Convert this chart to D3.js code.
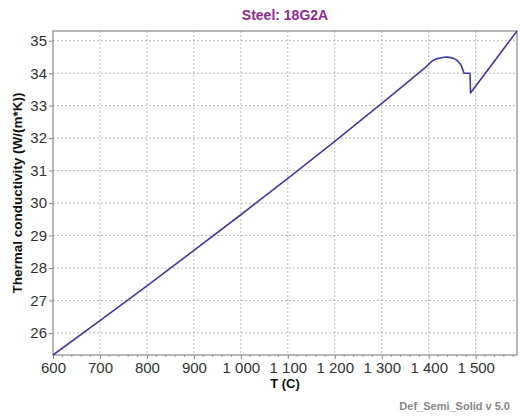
<!DOCTYPE html>
<html><head><meta charset="utf-8">
<script src="https://cdn.jsdelivr.net/npm/d3@7"></script>
<style>body{margin:0;background:#fff;} svg{display:block;}</style>
</head><body>
<svg id="c" width="520" height="416"></svg>
<script>
const temps = [600, 700, 800, 900, 1000, 1100, 1200, 1300, 1350, 1395, 1400, 1405, 1411, 1418, 1425, 1432, 1439, 1447, 1454, 1460, 1464, 1468, 1471, 1473, 1475, 1488, 1489, 1588];
const conductivity = [25.32, 26.38, 27.45, 28.54, 29.64, 30.76, 31.9, 33.07, 33.66, 34.20, 34.28, 34.35, 34.41, 34.45, 34.47, 34.49, 34.495, 34.48, 34.45, 34.40, 34.34, 34.27, 34.17, 34.09, 34.0, 34.0, 33.39, 35.30];
const xTicks = [600, 700, 800, 900, 1000, 1100, 1200, 1300, 1400, 1500];
const yTicks = [26, 27, 28, 29, 30, 31, 32, 33, 34, 35];
const title = "Steel: 18G2A";
const xLabel = "T (C)";
const yLabel = "Thermal conductivity (W/(m*K))";
const credit = "Def_Semi_Solid v 5.0";

const svg = d3.select("#c");
const m = {l: 53, r: 517, t: 31, b: 355};
const x = d3.scaleLinear().domain([600, 1588]).range([m.l, m.r]);
const y = d3.scaleLinear().domain([25.32, 35.3]).range([m.b, m.t]);
const font = "'Liberation Sans', Arial, sans-serif";
const fmt = v => d3.format(",")(v).replace(/,/g, " ");

// grid
svg.append("g").selectAll("line").data(xTicks.slice(1)).join("line")
  .attr("x1", d => x(d)).attr("x2", d => x(d)).attr("y1", m.t).attr("y2", m.b)
  .attr("stroke", "#bbb").attr("stroke-dasharray", "2,2").attr("stroke-width", 1);
svg.append("g").selectAll("line").data(yTicks).join("line")
  .attr("y1", d => y(d)).attr("y2", d => y(d)).attr("x1", m.l).attr("x2", m.r)
  .attr("stroke", "#bbb").attr("stroke-dasharray", "2,2").attr("stroke-width", 1);

// axes
const xAxis = d3.axisBottom(x).tickValues(xTicks).tickFormat(fmt).tickSize(4).tickPadding(3);
const gx = svg.append("g").attr("transform", `translate(0,${m.b})`).call(xAxis);
const yAxis = d3.axisLeft(y).tickValues(yTicks).tickSize(4).tickPadding(2);
const gy = svg.append("g").attr("transform", `translate(${m.l},0)`).call(yAxis);
[gx, gy].forEach(g => {
  g.select(".domain").remove();
  g.selectAll(".tick line").attr("stroke", "#888");
  g.selectAll("text").attr("font-family", font).attr("font-size", 15).attr("fill", "#333");
});
// minor x ticks
svg.append("g").selectAll("line").data(d3.range(620, 1588, 20).filter(v => v % 100 !== 0)).join("line")
  .attr("x1", d => x(d)).attr("x2", d => x(d)).attr("y1", m.b).attr("y2", m.b + 2)
  .attr("stroke", "#999");

// frame
svg.append("rect").attr("x", m.l).attr("y", m.t).attr("width", m.r - m.l).attr("height", m.b - m.t)
  .attr("fill", "none").attr("stroke", "#888").attr("stroke-width", 1.2);

// line
const pts = temps.map((t, i) => [t, conductivity[i]]);
svg.append("path").datum(pts)
  .attr("d", d3.line().x(d => x(d[0])).y(d => y(d[1])))
  .attr("fill", "none").attr("stroke", "#3b3ba5").attr("stroke-width", 1.6)
  .attr("stroke-linejoin", "round");

// texts
svg.append("text").attr("x", 285).attr("y", 20).attr("text-anchor", "middle")
  .attr("font-family", font).attr("font-weight", "bold").attr("font-size", 14).attr("fill", "#8e2a8e").text(title);
svg.append("text").attr("x", 285).attr("y", 388).attr("text-anchor", "middle")
  .attr("font-family", font).attr("font-weight", "bold").attr("font-size", 13).attr("fill", "#111").text(xLabel);
svg.append("text").attr("transform", "translate(22,193) rotate(-90)").attr("text-anchor", "middle")
  .attr("font-family", font).attr("font-weight", "bold").attr("font-size", 13.5).attr("fill", "#111").text(yLabel);
svg.append("text").attr("x", 510).attr("y", 410).attr("text-anchor", "end")
  .attr("font-family", font).attr("font-weight", "bold").attr("font-size", 11).attr("fill", "#888").text(credit);
</script>
</body></html>
